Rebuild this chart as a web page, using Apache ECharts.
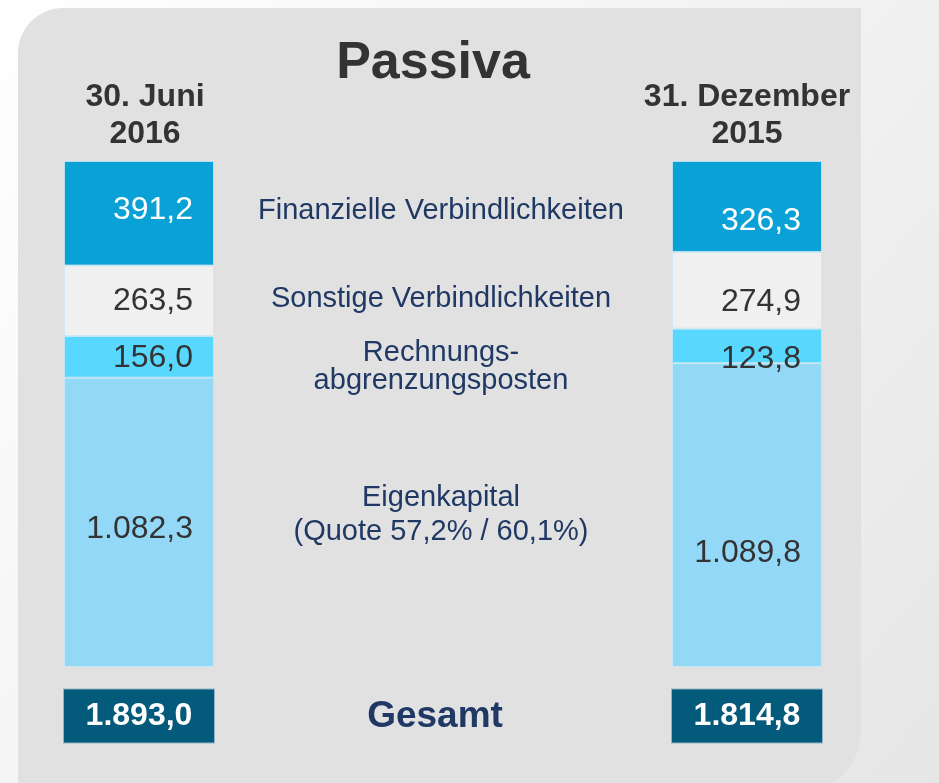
<!DOCTYPE html>
<html>
<head>
<meta charset="utf-8">
<script src="https://cdn.jsdelivr.net/npm/echarts@6/dist/echarts.min.js"></script>
<style>
  html, body { margin: 0; padding: 0; background: #fff; }
  #chart { width: 939px; height: 783px; }
</style>
</head>
<body>
<div id="chart"></div>
<script>
// Daten (Mio. EUR)
const periods = ['30. Juni\n2016', '31. Dezember\n2015'];
const segments = ['Finanzielle Verbindlichkeiten', 'Sonstige Verbindlichkeiten', 'Rechnungs-\nabgrenzungsposten', 'Eigenkapital\n(Quote 57,2% / 60,1%)'];
const values2016 = [391.2, 263.5, 156.0, 1082.3];
const values2015 = [326.3, 274.9, 123.8, 1089.8];
const totals = [1893.0, 1814.8];
const chartTitle = 'Passiva';
const totalLabel = 'Gesamt';

// Farben / Layout
const segColors = ['#0aa1d6', '#f0f0f0', '#58d8ff', '#93d9f7'];
const labelColors = ['#ffffff', '#333333', '#333333', '#333333'];
const labelNudge = [[-3, 0, 1, 7], [15, 12, 13, 38]]; // vertikale Verschiebung der Wertlabels
const headerPad = [[0, 0, 0, 12], [0, 0, 0, 0]];
const midLabelY = [211, 299, 367, 515];
const midLineHeight = [30, 30, 28, 34];
const FONT = '"Liberation Sans", Arial, sans-serif';
const navy = '#1f3864';

const fmtDe = v => {
  const [i, d] = v.toFixed(1).split('.');
  return i.replace(/\B(?=(\d{3})+(?!\d))/g, '.') + ',' + d;
};

const chart = echarts.init(document.getElementById('chart'));

const grids = [
  { left: 64, top: 161, width: 150, height: 506 },
  { left: 672, top: 161, width: 150, height: 506 }
];

const xAxes = periods.map((p, idx) => ({
  gridIndex: idx,
  type: 'category',
  data: [p],
  position: 'top',
  axisLine: { show: false },
  axisTick: { show: false },
  axisLabel: {
    fontFamily: FONT, fontSize: 32, fontWeight: 'bold', color: '#333',
    lineHeight: 37, margin: 8, padding: headerPad[idx]
  }
}));

const yAxes = totals.map((t, idx) => ({
  gridIndex: idx, type: 'value', min: 0, max: t, show: false
}));

const series = [];
[values2016, values2015].forEach((vals, idx) => {
  // von unten (Eigenkapital) nach oben (Finanzielle Verbindlichkeiten)
  for (let i = vals.length - 1; i >= 0; i--) {
    series.push({
      name: segments[i],
      type: 'bar',
      stack: 'p' + idx,
      xAxisIndex: idx,
      yAxisIndex: idx,
      barWidth: '100%',
      data: [vals[i]],
      itemStyle: { color: segColors[i], borderColor: 'rgba(200,232,245,0.8)', borderWidth: 1 },
      label: {
        show: true,
        position: 'insideRight',
        distance: 21,
        offset: [0, labelNudge[idx][i]],
        formatter: p => fmtDe(p.value),
        fontFamily: FONT,
        fontSize: 32,
        color: labelColors[i]
      },
      silent: true
    });
  }
  // Gesamtsumme als Kasten unter dem Balken
  series.push({
    type: 'scatter',
    xAxisIndex: idx,
    yAxisIndex: idx,
    data: [[0, 0]],
    symbolSize: 1,
    itemStyle: { color: 'rgba(0,0,0,0)', opacity: 1 },
    label: {
      show: true,
      position: 'bottom',
      distance: 22,
      formatter: () => fmtDe(totals[idx]),
      backgroundColor: '#045a7a',
      borderColor: '#8fb3c4',
      borderWidth: 1,
      width: 150,
      height: 53,
      lineHeight: 53,
      align: 'center',
      opacity: 1,
      fontFamily: FONT,
      fontSize: 32,
      fontWeight: 'bold',
      color: '#fff'
    },
    silent: true
  });
});

const graphic = [
  {
    type: 'rect', z: -10, silent: true,
    shape: { x: 0, y: 0, width: 939, height: 783 },
    style: {
      fill: new echarts.graphic.LinearGradient(0, 0, 1, 1, [
        { offset: 0, color: '#ffffff' },
        { offset: 1, color: '#e6e6e6' }
      ])
    }
  },
  {
    type: 'rect', z: -9, silent: true,
    shape: { x: 18, y: 8, width: 843, height: 784, r: [45, 0, 60, 0] },
    style: { fill: '#e1e1e1' }
  },
  {
    type: 'text', x: 433, y: 64, silent: true,
    style: {
      text: chartTitle, fill: '#333', font: 'bold 52px ' + FONT,
      textAlign: 'center', textVerticalAlign: 'middle'
    }
  },
  {
    type: 'text', x: 435, y: 717, silent: true,
    style: {
      text: totalLabel, fill: navy, font: 'bold 37px ' + FONT,
      textAlign: 'center', textVerticalAlign: 'middle'
    }
  }
];

segments.forEach((s, i) => {
  graphic.push({
    type: 'text', x: 441, y: midLabelY[i], silent: true,
    style: {
      text: s, fill: navy, fontFamily: FONT, fontSize: 29,
      lineHeight: midLineHeight[i],
      textAlign: 'center', textVerticalAlign: 'middle'
    }
  });
});

chart.setOption({
  animation: false,
  grid: grids,
  xAxis: xAxes,
  yAxis: yAxes,
  series: series,
  graphic: graphic
});
</script>
</body>
</html>
